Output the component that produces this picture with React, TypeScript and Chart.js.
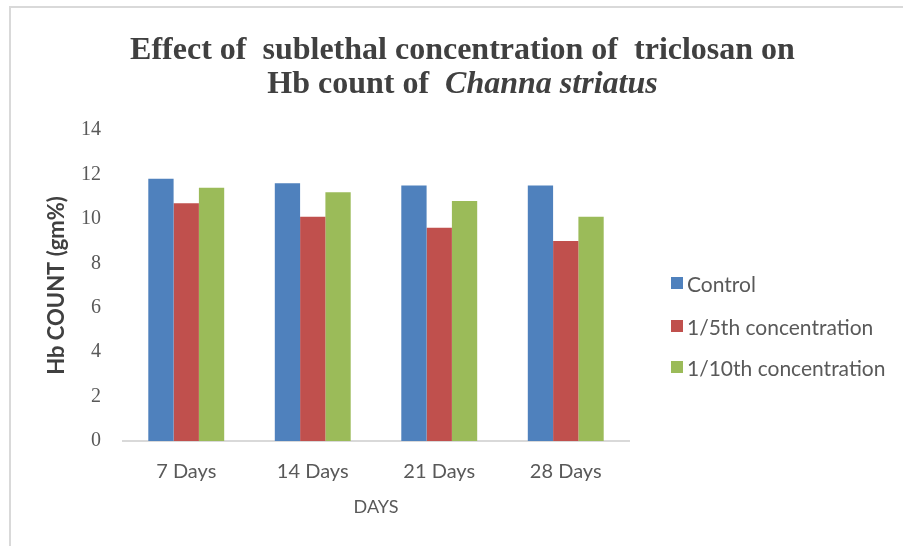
import React, { useEffect, useRef } from "react";
import { Chart, registerables } from "chart.js";

Chart.register(...registerables);

const categories = ["7 Days", "14 Days", "21 Days", "28 Days"];
const controlValues = [11.8, 11.6, 11.5, 11.5];
const fifthValues = [10.7, 10.1, 9.6, 9.0];
const tenthValues = [11.4, 11.2, 10.8, 10.1];
const seriesNames = ["Control", "1/5th concentration", "1/10th concentration"];
const seriesColors = ["#4F81BD", "#C0504D", "#9BBB59"];
const yTickValues = [0, 2, 4, 6, 8, 10, 12, 14];

export default function App() {
  const canvasRef = useRef<HTMLCanvasElement | null>(null);

  useEffect(() => {
    const canvas = canvasRef.current;
    if (!canvas) return;
    const chart = new Chart(canvas, {
      type: "bar",
      data: {
        labels: categories,
        datasets: [
          { label: seriesNames[0], data: controlValues, backgroundColor: seriesColors[0] },
          { label: seriesNames[1], data: fifthValues, backgroundColor: seriesColors[1] },
          { label: seriesNames[2], data: tenthValues, backgroundColor: seriesColors[2] },
        ],
      },
      options: {
        animation: false,
        responsive: false,
        devicePixelRatio: 1,
        layout: { padding: { left: 0, right: 274, top: 130, bottom: 0 } },
        datasets: { bar: { barPercentage: 1, categoryPercentage: 0.6 } },
        plugins: {
          legend: { display: false },
          title: { display: false },
          tooltip: { enabled: false },
        },
        scales: {
          x: {
            grid: { display: false, drawTicks: false },
            border: { display: true, color: "#d9d9d9", width: 2 },
            ticks: {
              color: "#595959",
              font: { family: "Lato", size: 20 },
              padding: 19,
            },
            title: {
              display: true,
              text: "DAYS",
              color: "#595959",
              font: { family: "Lato", size: 18 },
              padding: { top: 0, bottom: 28 },
            },
            afterFit: (scale: any) => {
              scale.height = 105;
            },
          },
          y: {
            min: 0,
            max: 14,
            grid: { display: false, drawTicks: false },
            border: { display: false },
            afterBuildTicks: (scale: any) => {
              scale.ticks = yTickValues.map((v) => ({ value: v }));
            },
            ticks: {
              color: "#595959",
              font: { family: "Liberation Serif", size: 20 },
              padding: 22,
            },
            title: {
              display: true,
              text: "Hb COUNT (gm%)",
              color: "#404040",
              font: { family: "Lato", size: 22, weight: "bold" },
              padding: { top: 44, bottom: 0 },
            },
            afterFit: (scale: any) => {
              scale.width = 123;
            },
          },
        },
      },
    });
    return () => chart.destroy();
  }, []);

  const legendTops = [283, 326, 367];

  return (
    <div
      style={{
        position: "fixed",
        left: 0,
        top: 0,
        width: 903,
        height: 546,
        overflow: "hidden",
        background: "#ffffff",
      }}
    >
      <div
        style={{
          position: "absolute",
          left: 9,
          top: 6,
          width: 1200,
          height: 1200,
          borderLeft: "2px solid #d9d9d9",
          borderTop: "2px solid #d9d9d9",
        }}
      />
      <canvas
        ref={canvasRef}
        width={903}
        height={546}
        style={{ position: "absolute", left: 0, top: 0, width: 903, height: 546 }}
      />
      <div
        style={{
          position: "absolute",
          left: 0,
          width: 925,
          top: 31,
          textAlign: "center",
          fontFamily: "'Liberation Serif', serif",
          fontWeight: "bold",
          fontSize: 32,
          lineHeight: "34px",
          color: "#404040",
          whiteSpace: "pre",
        }}
      >
        <div>{"Effect of  sublethal concentration of  triclosan on"}</div>
        <div>
          {"Hb count of  "}
          <i>Channa striatus</i>
        </div>
      </div>
      {seriesNames.map((name, i) => (
        <div
          key={name}
          style={{
            position: "absolute",
            left: 671,
            top: legendTops[i] - 13,
            height: 26,
            display: "flex",
            alignItems: "center",
            fontFamily: "Lato, sans-serif",
            fontSize: 21,
            color: "#595959",
            whiteSpace: "nowrap",
          }}
        >
          <span
            style={{
              display: "inline-block",
              width: 12,
              height: 12,
              background: seriesColors[i],
              marginRight: 4,
            }}
          />
          <span>{name}</span>
        </div>
      ))}
    </div>
  );
}
